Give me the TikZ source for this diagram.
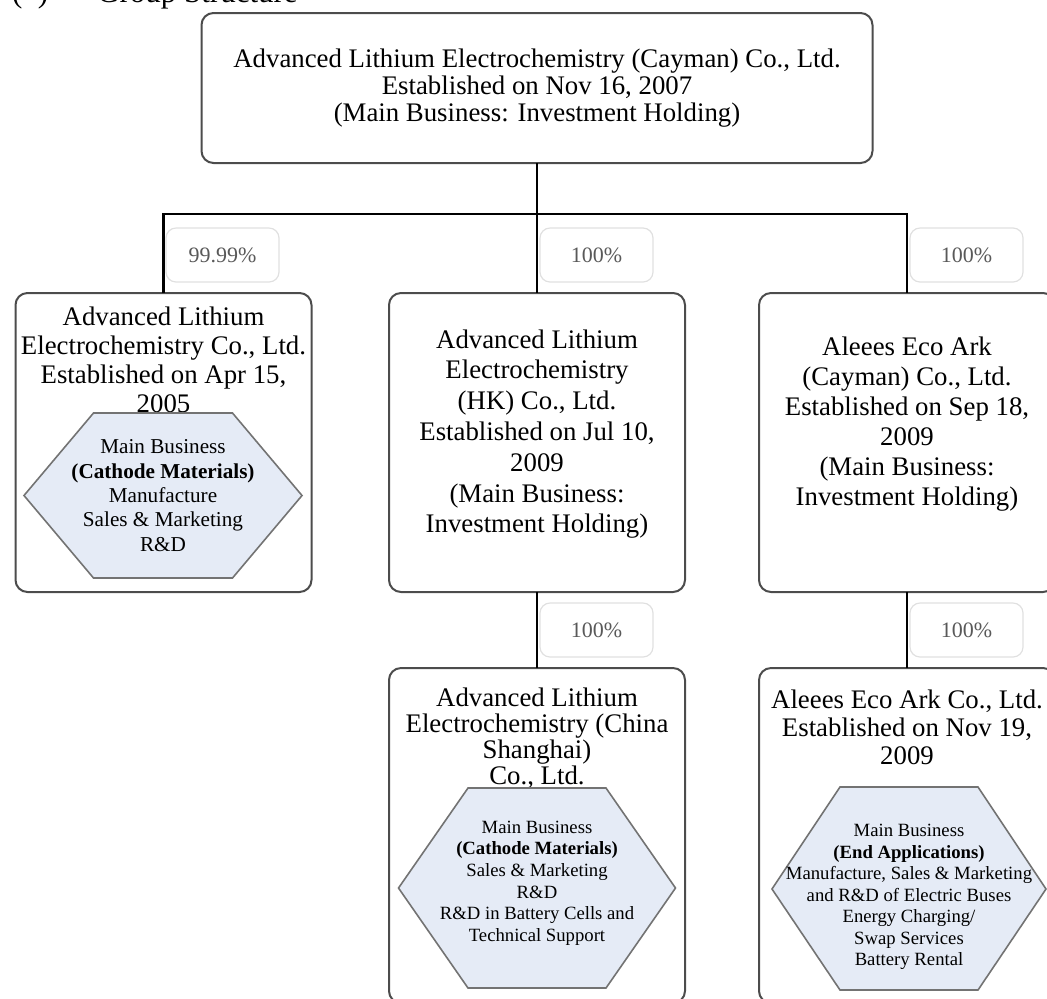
\documentclass[tikz,border=0pt]{standalone}
\usepackage{fontspec}
\setmainfont{Liberation Serif}

\begin{document}
\begin{tikzpicture}[x=0.5pt, y=-0.5pt,
    %Option for boxes and links
    inner sep=0pt, outer sep=0pt,%
    company/.style={draw=black!70, line width=1pt, rounded corners=6pt,
        minimum width=148pt, minimum height=#1},
    firmname/.style={align=center, font=\fontsize{13.4}{#1}\selectfont},
    business/.style={draw=black!55, line width=0.8pt, fill=hexblue},
    duty/.style 2 args={align=center, font=\fontsize{#1}{#2}\selectfont},
    share/.style={draw=black!12, line width=0.6pt, rounded corners=5pt,
        minimum width=56.5pt, minimum height=27pt, text=black!65,
        font=\fontsize{11}{13}\selectfont},
    link/.style={line width=1.1pt},
]
    % Colors
    \definecolor{hexblue}{HTML}{E5EBF6}

    % Frame
    \clip (0,0) rectangle (1047,998);
    \node[anchor=base west, font=\fontsize{15.5}{18}\selectfont] (heading) at (12,2.5)
        {(\hphantom{0})\hspace{24.5pt}Group Structure};

    % Holding company
    \node[company=75pt, minimum width=335.5pt, firmname=13.5pt] (cayman) at (537,88)
        {Advanced Lithium Electrochemistry (Cayman) Co., Ltd.\\
         Established on Nov 16, 2007\\
         (Main Business: Investment Holding)};

    % First level
    \node[company=149.5pt] (alec)   at (163.5,442.5) {};
    \node[company=149.5pt] (hk)     at (537,442.5) {};
    \node[company=149.5pt] (ecoark) at (907,442.5) {};

    \node[firmname=14.5pt] (alecname) at (163.5,360)
        {Advanced Lithium\\ Electrochemistry Co., Ltd.\\ Established on Apr 15,\\ 2005};
    \node[firmname=15.4pt] (hkname) at (537,434)
        {Advanced Lithium\\ Electrochemistry\\ (HK) Co., Ltd.\\ Established on Jul 10,\\
         2009\\ (Main Business:\\ Investment Holding)};
    \node[firmname=15pt] (ecoarkname) at (907,424)
        {Aleees Eco Ark\\ (Cayman) Co., Ltd.\\ Established on Sep 18,\\ 2009\\
         (Main Business:\\ Investment Holding)};

    % Second level
    \node[company=167.5pt] (shanghai) at (537,835.5) {};
    \node[company=167.5pt] (ecoarktw) at (907,835.5) {};

    \node[firmname=13pt] (shanghainame) at (537,738)
        {Advanced Lithium\\ Electrochemistry (China\\ Shanghai)\\ Co., Ltd.};
    \node[firmname=14pt] (ecoarktwname) at (907,727)
        {Aleees Eco Ark Co., Ltd.\\ Established on Nov 19,\\ 2009};

    % Main business hexagons
    \coordinate (alecbiz) at (163,495.5);
    \draw[business] (alecbiz) ++(-139,0) -- ++(69.5,-82.5) -- ++(139,0)
        -- ++(69.5,82.5) -- ++(-69.5,82.5) -- ++(-139,0) -- cycle;
    \node[duty={10.6}{12.2}] (alecduty) at (alecbiz)
        {Main Business\\ \textbf{(Cathode Materials)}\\ Manufacture\\
         Sales \& Marketing\\ R\&D};

    \coordinate (shanghaibiz) at (537,888);
    \draw[business] (shanghaibiz) ++(-138.5,0) -- ++(69.5,-100) -- ++(138,0)
        -- ++(69.5,100) -- ++(-69.5,100) -- ++(-138,0) -- cycle;
    \node[duty={9.35}{10.8}] (shanghaiduty) at (537,883)
        {Main Business\\ \textbf{(Cathode Materials)}\\ Sales \& Marketing\\ R\&D\\
         R\&D in Battery Cells and\\ Technical Support};

    \coordinate (ecoarkbiz) at (909,889);
    \draw[business] (ecoarkbiz) ++(-137,0) -- ++(68,-102) -- ++(138,0)
        -- ++(68,102) -- ++(-68,101) -- ++(-138,0) -- cycle;
    \node[duty={9.35}{10.75}] (ecoarkduty) at (909,897)
        {Main Business\\ \textbf{(End Applications)}\\ Manufacture, Sales \& Marketing\\
         and R\&D of Electric Buses\\ Energy Charging/\\ Swap Services\\ Battery Rental};

    % Links
    \coordinate (bus) at (537,214);
    \draw[link] (cayman.south) -- (hk.north);
    \draw[link] (alec.north) |- (bus) -| (ecoark.north);
    \draw[link] (hk.south) -- (shanghai.north);
    \draw[link] (ecoark.south) -- (ecoarktw.north);

    % Shareholdings
    \node[share] (alecshare)     at (222.5,255) {99.99\%};
    \node[share] (hkshare)       at (596.5,255) {100\%};
    \node[share] (ecoarkshare)   at (966.5,255) {100\%};
    \node[share] (shanghaishare) at (596.5,630) {100\%};
    \node[share] (ecoarktwshare) at (966.5,630) {100\%};
\end{tikzpicture}
\end{document}
